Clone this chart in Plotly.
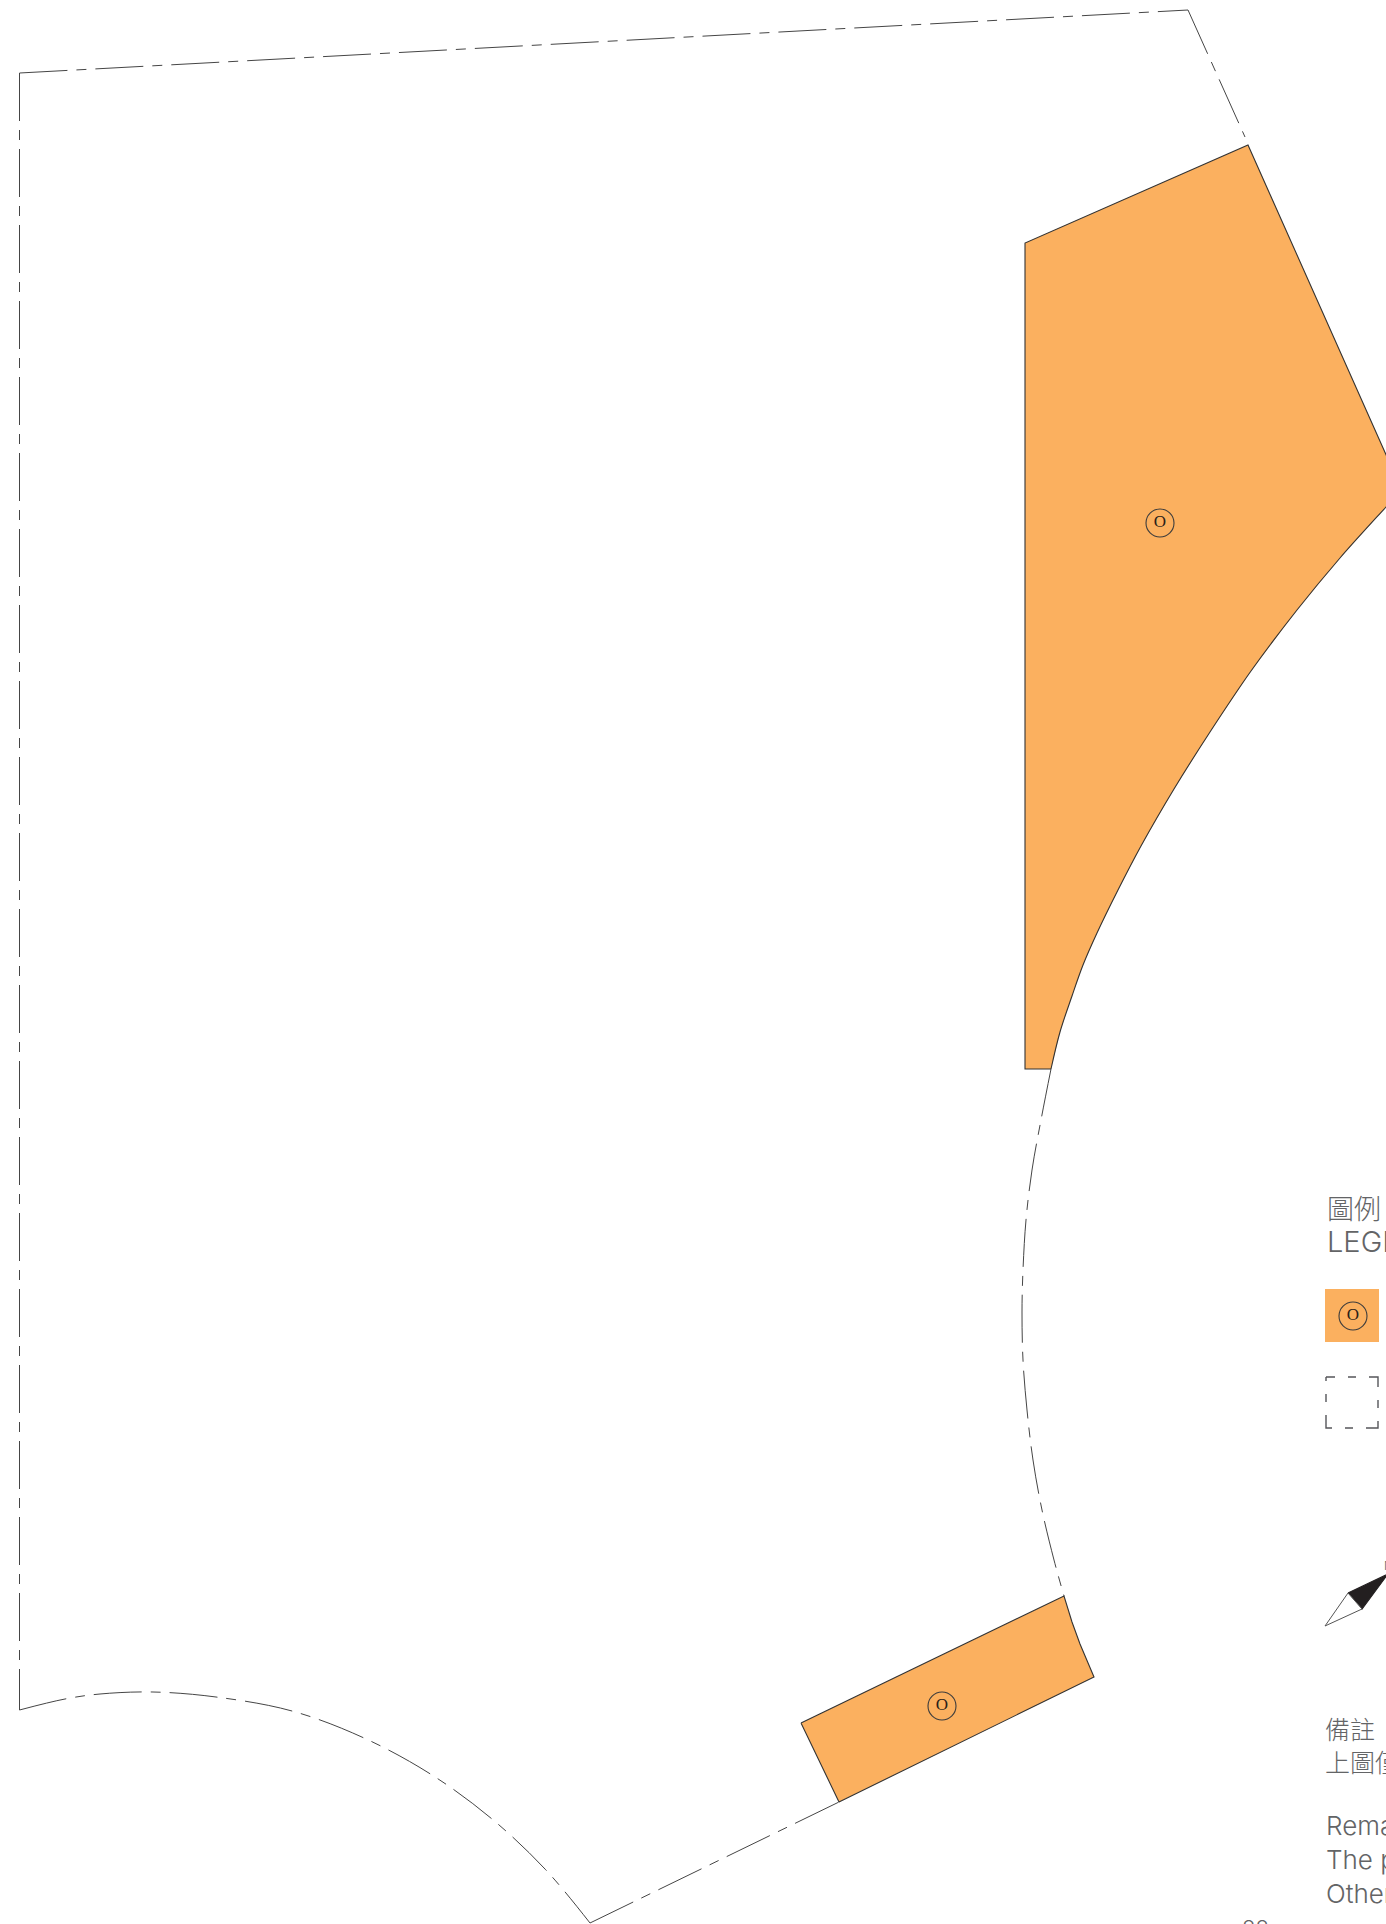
import plotly.graph_objects as go

ORANGE = "#fbb05f"
LINE = "#333333"
DASH_LINE = "#454545"
TEXT = "#636466"
PATTERN = "48px,9px,10px,9px"

# Orange areas (page pixels)
area_a_corner_x = [1051, 1025, 1025, 1248, 1396]
area_a_corner_y = [1069, 1069, 243, 145, 477]
area_a_curve_x = [1396, 1386, 1340, 1297, 1251, 1210, 1174, 1141, 1118, 1097, 1083, 1072, 1060, 1051]
area_a_curve_y = [496, 507, 558, 610, 671, 732, 789, 846, 890, 933, 965, 996, 1032, 1069]
area_b_x = [801, 1064, 1072, 1080, 1094, 839, 801]
area_b_y = [1723, 1596, 1622, 1644, 1677, 1802, 1723]

# Dash-dot boundary runs
top_edge_x = [19.5, 1188]
top_edge_y = [73, 10]
left_edge_x = [19.5, 19.5]
left_edge_y = [73, 1710]
right_edge_x = [1188, 1245]
right_edge_y = [10, 137]
arc_bottom_x = [19.5, 65, 100, 153, 216, 292, 364, 432, 492, 545, 590]
arc_bottom_y = [1710, 1699, 1694, 1692, 1697, 1711, 1738, 1775, 1819, 1869, 1923]
base_edge_x = [590, 839]
base_edge_y = [1923, 1802]
arc_right_x = [1051, 1041, 1032, 1026, 1023, 1022, 1023, 1027, 1033, 1042, 1054, 1064]
arc_right_y = [1069, 1120, 1170, 1220, 1270, 1312, 1360, 1410, 1460, 1510, 1560, 1596]

# Area symbols
symbol_x = [1160, 942, 1353]
symbol_y = [523, 1706, 1316]
symbol_text = ["O", "O", "O"]

# Legend
swatch_x = [1325, 1379, 1379, 1325, 1325]
swatch_y = [1289, 1289, 1342, 1342, 1289]
dash_box_x = [1326, 1378, 1378, 1326, 1326]
dash_box_y = [1377, 1377, 1428, 1428, 1377]

# North arrow
arrow_dark_x = [1348, 1388, 1362, 1348]
arrow_dark_y = [1593, 1574, 1609, 1593]
arrow_tail_x = [1348, 1362, 1325, 1348]
arrow_tail_y = [1593, 1609, 1626, 1593]

# Text
labels = ["圖例", "LEGEND", "備註<br>上圖僅", "Remarks<br>The p<br>Other", "88", "N"]
label_x = [1327, 1327, 1325, 1326, 1242, 1384]
label_y = [1207, 1241, 1744, 1859, 1915, 1565]
label_anchor = ["middle", "middle", "middle", "middle", "top", "middle"]
label_size = [27, 29, 25, 26, 22, 12]
CJK = '"Noto Sans CJK TC"'
LATIN = "Inter"
label_font = [CJK, LATIN, CJK, LATIN, LATIN, LATIN]

fig = go.Figure()


def area(x, y, color=ORANGE, line=LINE, width=1.1):
    fig.add_trace(go.Scatter(x=x, y=y, mode="lines", fill="toself", fillcolor=color,
                             line=dict(color=line, width=width), hoverinfo="skip", showlegend=False))


def edge(x, y, shape="linear", dash=PATTERN, color=DASH_LINE, width=1.0):
    fig.add_trace(go.Scatter(x=x, y=y, mode="lines", hoverinfo="skip", showlegend=False,
                             line=dict(color=color, width=width, dash=dash, shape=shape)))


edge(top_edge_x, top_edge_y)
edge(left_edge_x, left_edge_y)
edge(right_edge_x, right_edge_y)
edge(arc_bottom_x, arc_bottom_y, "spline")
edge(base_edge_x, base_edge_y)
edge(arc_right_x, arc_right_y, "spline")
fig.add_trace(go.Scatter(x=area_a_corner_x + area_a_curve_x, y=area_a_corner_y + area_a_curve_y,
                         mode="none", fill="toself", fillcolor=ORANGE, hoverinfo="skip", showlegend=False))
edge(area_a_corner_x, area_a_corner_y, dash="solid", color=LINE, width=1.1)
edge(area_a_curve_x, area_a_curve_y, "spline", dash="solid", color=LINE, width=1.1)
area(area_b_x, area_b_y)
area(swatch_x, swatch_y, line=ORANGE, width=0)
edge(dash_box_x, dash_box_y, dash="9px,13px,8px,13px,10px,0px", color="#55565a", width=1.4)
area(arrow_dark_x, arrow_dark_y, color="#231f20", line="#231f20")
area(arrow_tail_x, arrow_tail_y, color="#ffffff", line="#555555", width=1)
fig.add_trace(go.Scatter(x=symbol_x, y=symbol_y, mode="markers+text", text=symbol_text,
                         textposition="middle center", hoverinfo="skip", showlegend=False,
                         textfont=dict(family="Liberation Serif", size=17, color="#2b2118"),
                         marker=dict(symbol="circle-open", size=28, color="#3c3c3c", line=dict(width=1.1, color="#3c3c3c"))))

for t, x, y, a, s, f in zip(labels, label_x, label_y, label_anchor, label_size, label_font):
    fig.add_annotation(text=t, x=x, y=y, xref="x", yref="y", xanchor="left", yanchor=a,
                       showarrow=False, align="left", borderpad=0, borderwidth=0,
                       font=dict(family=f, size=s, color=TEXT, weight=300))

fig.update_layout(width=1386, height=1924, margin=dict(l=0, r=0, t=0, b=0),
                  paper_bgcolor="#ffffff", plot_bgcolor="#ffffff", showlegend=False,
                  xaxis=dict(range=[0, 1386], visible=False, fixedrange=True),
                  yaxis=dict(range=[1924, 0], visible=False, fixedrange=True))

fig.write_html("out.html", config={"displayModeBar": False},
               post_script="document.body.style.margin='0';document.body.style.overflow='hidden';")
